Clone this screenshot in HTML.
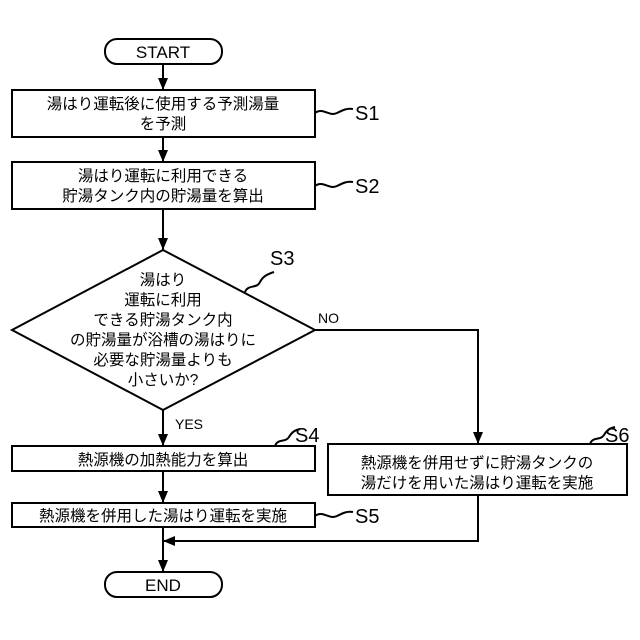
<!DOCTYPE html>
<html><head><meta charset="utf-8"><style>
html,body{margin:0;padding:0;background:#fff;}
svg{display:block;}
text{font-family:"Liberation Sans","Noto Sans CJK JP",sans-serif;fill:#000;}
.j{font-size:15.5px;}
.l{font-size:17px;font-family:"Liberation Sans Narrow","Liberation Sans",sans-serif;}
</style></head><body>
<svg width="640" height="640" viewBox="0 0 640 640">
<defs><marker id="a" markerWidth="10" markerHeight="12" refX="5" refY="12" orient="auto" markerUnits="userSpaceOnUse"><path d="M0,0 L10,0 L5,12z" fill="#000" transform="rotate(0)"/></marker></defs>
<g stroke="#000" stroke-width="2" fill="none">
<rect x="105" y="39" width="117" height="25" rx="12"/>
<rect x="105" y="572" width="117" height="25" rx="12"/>
<rect x="12" y="90" width="303" height="47"/>
<rect x="12" y="162" width="303" height="47"/>
<polygon points="163,250 315,330 163,410 12,330"/>
<rect x="12" y="446" width="303" height="25"/>
<rect x="12" y="503" width="303" height="24"/>
<rect x="328" y="444" width="299" height="51"/>
<line x1="163" y1="64" x2="163" y2="90"/>
<line x1="163" y1="137" x2="163" y2="162"/>
<line x1="163" y1="209" x2="163" y2="250"/>
<line x1="163" y1="410" x2="163" y2="446"/>
<line x1="163" y1="471" x2="163" y2="503"/>
<line x1="163" y1="527" x2="163" y2="572"/>
<polyline points="315,330 478,330 478,444"/>
<polyline points="478,495 478,541 163,541"/>
<path d="M315,113 c8,-6 14,4 22,0 c6,-3 10,-5 16,-4"/>
<path d="M315,186 c8,-6 14,4 22,0 c6,-3 10,-5 16,-4"/>
<path d="M245,292 c3,-8 12,-3 15,-10 c3,-6 8,-8 14,-10"/>
<path d="M275,446 c3,-8 10,-3 14,-9 c3,-5 6,-7 11,-8"/>
<path d="M315,516 c8,-6 14,4 22,0 c6,-3 10,-5 16,-4"/>
<path d="M590,444 c3,-8 10,-3 14,-9 c3,-5 6,-7 11,-8"/>
</g>
<g fill="#000">
<path d="M158,78 L168,78 L163,90z"/>
<path d="M158,150 L168,150 L163,162z"/>
<path d="M158,238 L168,238 L163,250z"/>
<path d="M158,434 L168,434 L163,446z"/>
<path d="M158,491 L168,491 L163,503z"/>
<path d="M158,560 L168,560 L163,572z"/>
<path d="M473,432 L483,432 L478,444z"/>
<path d="M163,541 L175,536 L175,546z"/>
</g>
<text class="l" x="163" y="58" text-anchor="middle">START</text>
<text class="l" x="163" y="591" text-anchor="middle">END</text>
<text class="j" x="163" y="109" text-anchor="middle">湯はり運転後に使用する予測湯量</text>
<text class="j" x="163" y="129" text-anchor="middle">を予測</text>
<text class="j" x="163" y="181" text-anchor="middle">湯はり運転に利用できる</text>
<text class="j" x="163" y="201" text-anchor="middle">貯湯タンク内の貯湯量を算出</text>
<g class="j" text-anchor="middle">
<text x="163" y="285">湯はり</text>
<text x="163" y="305">運転に利用</text>
<text x="163" y="325">できる貯湯タンク内</text>
<text x="163" y="345">の貯湯量が浴槽の湯はりに</text>
<text x="163" y="365">必要な貯湯量よりも</text>
<text x="163" y="385">小さいか?</text>
</g>
<text class="j" x="163" y="465" text-anchor="middle">熱源機の加熱能力を算出</text>
<text class="j" x="163" y="521" text-anchor="middle">熱源機を併用した湯はり運転を実施</text>
<text class="j" x="477" y="468" text-anchor="middle">熱源機を併用せずに貯湯タンクの</text>
<text class="j" x="477" y="488" text-anchor="middle">湯だけを用いた湯はり運転を実施</text>
<text class="l" x="355" y="120" style="font-size:20px">S1</text>
<text class="l" x="355" y="193" style="font-size:20px">S2</text>
<text class="l" x="270" y="265" style="font-size:20px">S3</text>
<text class="l" x="295" y="442" style="font-size:20px">S4</text>
<text class="l" x="355" y="523" style="font-size:20px">S5</text>
<text class="l" x="605" y="442" style="font-size:20px">S6</text>
<text class="l" x="318" y="323" style="font-size:14px">NO</text>
<text class="l" x="175" y="429" style="font-size:14px">YES</text>
</svg>
</body></html>
